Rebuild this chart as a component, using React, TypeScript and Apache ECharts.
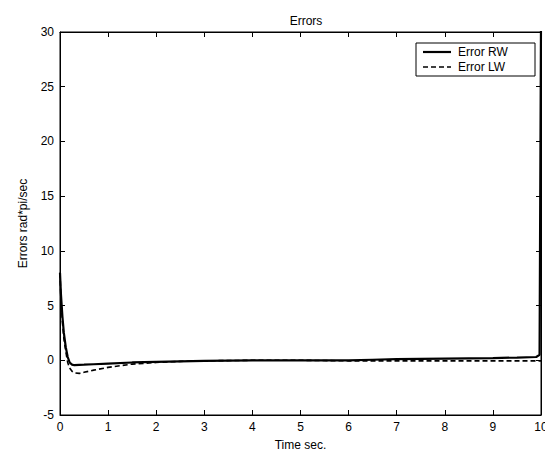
import React, { useEffect, useRef } from "react";
import * as echarts from "echarts";

const timeValues = [0, 0.02, 0.05, 0.08, 0.12, 0.16, 0.2, 0.25, 0.3, 0.4, 0.5, 0.7, 1, 1.5, 2, 2.5, 3, 4, 5, 6, 6.5, 7, 8, 9, 9.5, 9.9, 9.97, 10];
const errorRW = [8, 6, 4, 2.5, 1.2, 0.3, -0.2, -0.4, -0.45, -0.42, -0.4, -0.36, -0.3, -0.2, -0.15, -0.1, -0.05, 0, 0, 0, 0.05, 0.1, 0.15, 0.2, 0.25, 0.3, 0.5, 31];
const errorLW = [8, 5.5, 3.5, 2, 0.8, -0.2, -0.7, -1.0, -1.15, -1.2, -1.1, -0.9, -0.65, -0.35, -0.2, -0.1, -0.05, 0, 0, -0.05, -0.05, -0.05, -0.05, -0.05, -0.05, -0.05, -0.05, -0.05];
const seriesNames = ["Error RW", "Error LW"];
const xTicks = { min: 0, max: 10, interval: 1 };
const yTicks = { min: -5, max: 30, interval: 5 };

export default function App() {
  const ref = useRef<HTMLDivElement>(null);
  useEffect(() => {
    if (!ref.current) return;
    const chart = echarts.init(ref.current, null, { renderer: "svg" });
    const font = "Liberation Sans, Arial, sans-serif";
    const axisCommon = {
      axisLine: { show: true, onZero: false, lineStyle: { color: "#000", width: 1 } },
      axisTick: { show: true, inside: true, length: 5, lineStyle: { color: "#000" } },
      splitLine: { show: false },
    };
    const lx = 416, ly = 43, lw = 119, lh = 33;
    chart.setOption({
      animation: false,
      backgroundColor: "#fff",
      title: {
        text: "Errors",
        left: 301,
        textAlign: "center",
        top: 10,
        textStyle: { fontFamily: font, fontSize: 12, fontWeight: "normal", color: "#000" },
      },
      graphic: [
        { type: "rect", shape: { x: lx, y: ly, width: lw, height: lh }, style: { fill: "#fff", stroke: "#000", lineWidth: 1 }, z: 100 },
        { type: "line", shape: { x1: lx + 7, y1: ly + 9, x2: lx + 35, y2: ly + 9 }, style: { stroke: "#000", lineWidth: 2.2 }, z: 101 },
        { type: "line", shape: { x1: lx + 7, y1: ly + 24, x2: lx + 35, y2: ly + 24 }, style: { stroke: "#000", lineWidth: 1.6, lineDash: [5, 3] }, z: 101 },
        { type: "text", x: lx + 42, y: ly + 9, style: { text: seriesNames[0], fontFamily: font, fontSize: 12, fill: "#000", verticalAlign: "middle" }, z: 101 },
        { type: "text", x: lx + 42, y: ly + 24, style: { text: seriesNames[1], fontFamily: font, fontSize: 12, fill: "#000", verticalAlign: "middle" }, z: 101 },
      ],
      grid: { left: 60, right: 12, top: 32, bottom: 44, show: true, borderColor: "#000", borderWidth: 1 },
      xAxis: [
        {
          type: "value",
          ...xTicks,
          name: "Time sec.",
          nameLocation: "middle",
          nameGap: 24,
          nameTextStyle: { fontFamily: font, fontSize: 12, color: "#000" },
          axisLabel: { fontFamily: font, fontSize: 12, color: "#000", margin: 6 },
          ...axisCommon,
        },
        {
          type: "value",
          ...xTicks,
          position: "top",
          axisLabel: { show: false },
          ...axisCommon,
        },
      ],
      yAxis: [
        {
          type: "value",
          ...yTicks,
          name: "Errors rad*pi/sec",
          nameLocation: "middle",
          nameGap: 31,
          nameTextStyle: { fontFamily: font, fontSize: 12, color: "#000" },
          axisLabel: { fontFamily: font, fontSize: 12, color: "#000", margin: 6 },
          ...axisCommon,
        },
        {
          type: "value",
          ...yTicks,
          position: "right",
          axisLabel: { show: false },
          ...axisCommon,
        },
      ],
      series: [
        {
          name: seriesNames[0],
          type: "line",
          symbol: "none",
          data: timeValues.map((t, i) => [t, errorRW[i]]),
          lineStyle: { color: "#000", width: 2.2, type: "solid" },
          itemStyle: { color: "#000" },
          clip: true,
        },
        {
          name: seriesNames[1],
          type: "line",
          symbol: "none",
          data: timeValues.map((t, i) => [t, errorLW[i]]),
          lineStyle: { color: "#000", width: 1.6, type: [5, 3] },
          itemStyle: { color: "#000" },
          clip: true,
        },
      ],
    });
    return () => chart.dispose();
  }, []);
  return <div ref={ref} style={{ width: 553, height: 459, margin: -8 }} />;
}
